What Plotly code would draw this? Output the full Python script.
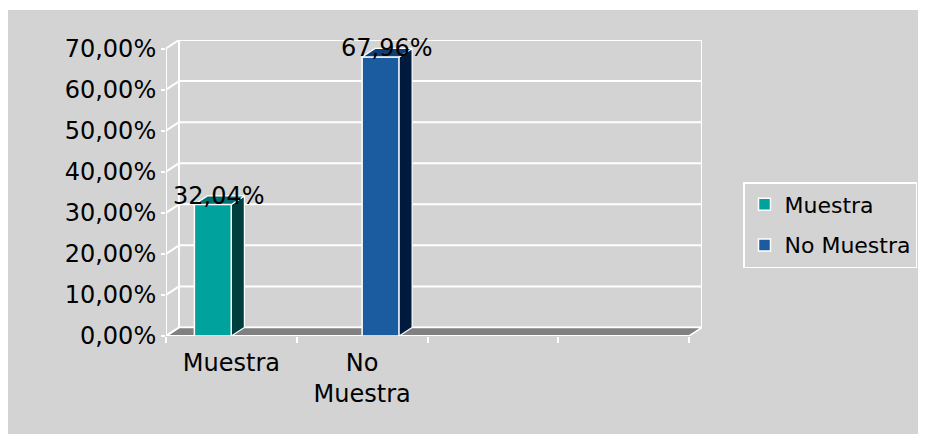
import plotly.graph_objects as go

# data
categories = ["Muestra", "No<br>Muestra"]
series_names = ["Muestra", "No Muestra"]
values = [32.04, 67.96]
slot_count = 4
y_ticks = [0, 10, 20, 30, 40, 50, 60, 70]

front_colors = ["#00a29e", "#1b5ca0"]
side_colors = ["#003e3e", "#001a3e"]
top_colors = ["#006f6f", "#0e4077"]

FONT = "DejaVu Sans"
BG = "#d3d3d3"
# the page body has an 8px margin, size the figure to what is visible
W, H = 910, 426
L, R, T, B = 158, 216, 32, 98

# 3D depth of the box, in pixels, turned into data units
DEPTH_PX_X, DEPTH_PX_Y = 13, 8.5
plot_w = W - L - R
plot_h = H - T - B
px_per_cat = (plot_w - DEPTH_PX_X) / slot_count
px_per_pct = (plot_h - DEPTH_PX_Y) / max(y_ticks)
DX = DEPTH_PX_X / px_per_cat
DY = DEPTH_PX_Y / px_per_pct
BAR_W = 37 / px_per_cat

x_lo, x_hi = -0.5, slot_count - 0.5
y_top = max(y_ticks)


def pct(v):
    return f"{v:.2f}%".replace(".", ",")


fig = go.Figure()

n = len(series_names)
for i, (name, v) in enumerate(zip(series_names, values)):
    off = (i - n / 2) * BAR_W
    xl = i + off
    xr = xl + BAR_W
    fig.add_trace(go.Bar(
        x=[i], y=[v], width=[BAR_W], offset=[off], name=name,
        marker=dict(color=front_colors[i], line=dict(color="white", width=1.5)),
        legendgroup=name,
    ))
    # side face
    fig.add_trace(go.Scatter(
        x=[xr, xr, xr + DX, xr + DX, xr], y=[0, v, v + DY, DY, 0],
        mode="lines", fill="toself", fillcolor=side_colors[i],
        line=dict(color="white", width=1.2), showlegend=False, hoverinfo="skip",
    ))
    # top face
    fig.add_trace(go.Scatter(
        x=[xl, xr, xr + DX, xl + DX, xl], y=[v, v, v + DY, v + DY, v],
        mode="lines", fill="toself", fillcolor=top_colors[i],
        line=dict(color="white", width=1.2), showlegend=False, hoverinfo="skip",
    ))
    fig.add_annotation(
        x=xl + BAR_W / 2 + DX / 2, y=v + DY, text=pct(v),
        showarrow=False, yanchor="middle", xanchor="center",
        font=dict(family=FONT, size=24, color="black"),
    )

shapes = []
# grey chart area
shapes.append(dict(type="rect", xref="paper", yref="paper", layer="below",
                   x0=-L / plot_w, x1=(W - L) / plot_w,
                   y0=-B / plot_h, y1=(H - 2 - B) / plot_h,
                   fillcolor=BG, line=dict(width=0)))
# back wall gridlines
for t in y_ticks:
    shapes.append(dict(type="line", layer="below", x0=x_lo + DX, x1=x_hi + DX,
                       y0=t + DY, y1=t + DY, line=dict(color="white", width=2)))
# back wall edges
for xe in (x_lo + DX, x_hi + DX):
    shapes.append(dict(type="line", layer="below", x0=xe, x1=xe,
                       y0=DY, y1=y_top + DY, line=dict(color="white", width=2)))
# floor
shapes.append(dict(type="path", layer="below",
                   path=f"M{x_lo},0 L{x_hi},0 L{x_hi + DX},{DY} L{x_lo + DX},{DY} Z",
                   fillcolor="#808080", line=dict(color="white", width=1.5)))
# connectors from the front axis to the back wall
for t in y_ticks:
    shapes.append(dict(type="line", layer="below", x0=x_lo, x1=x_lo + DX,
                       y0=t, y1=t + DY, line=dict(color="white", width=2)))
# front axis lines
shapes.append(dict(type="line", layer="below", x0=x_lo, x1=x_lo, y0=0, y1=y_top,
                   line=dict(color="white", width=2)))
shapes.append(dict(type="line", layer="below", x0=x_lo, x1=x_hi, y0=0, y1=0,
                   line=dict(color="white", width=2)))

fig.update_layout(
    width=W, height=H, autosize=False,
    margin=dict(l=L, r=R, t=T, b=B),
    paper_bgcolor="white", plot_bgcolor="rgba(0,0,0,0)",
    barmode="overlay",
    shapes=shapes,
    font=dict(family=FONT, size=24, color="black"),
    xaxis=dict(
        range=[x_lo, x_hi + DX], tickvals=list(range(len(categories))), ticktext=categories,
        ticks="", showgrid=False, zeroline=False, showline=False,
        minor=dict(tickvals=[k - 0.5 for k in range(slot_count + 1)], ticks="outside",
                   ticklen=6, tickwidth=2, tickcolor="white", showgrid=False),
        tickfont=dict(family=FONT, size=24, color="black"),
        ticklabelstandoff=10,
        automargin=False, fixedrange=True,
    ),
    yaxis=dict(
        range=[0, y_top + DY], tickvals=y_ticks, ticktext=[pct(t) for t in y_ticks],
        ticks="outside", ticklen=4, tickwidth=2, tickcolor="white",
        showgrid=False, zeroline=False, showline=False,
        tickfont=dict(family=FONT, size=24, color="black"),
        automargin=False, fixedrange=True,
    ),
    legend=dict(
        xref="container", yref="container",
        x=735 / W, y=1 - 174 / H, xanchor="left", yanchor="top",
        bgcolor="rgba(0,0,0,0)", bordercolor="white", borderwidth=1.5,
        font=dict(family=FONT, size=22, color="black"),
        tracegroupgap=9,
    ),
)

fig.write_html("out.html")
